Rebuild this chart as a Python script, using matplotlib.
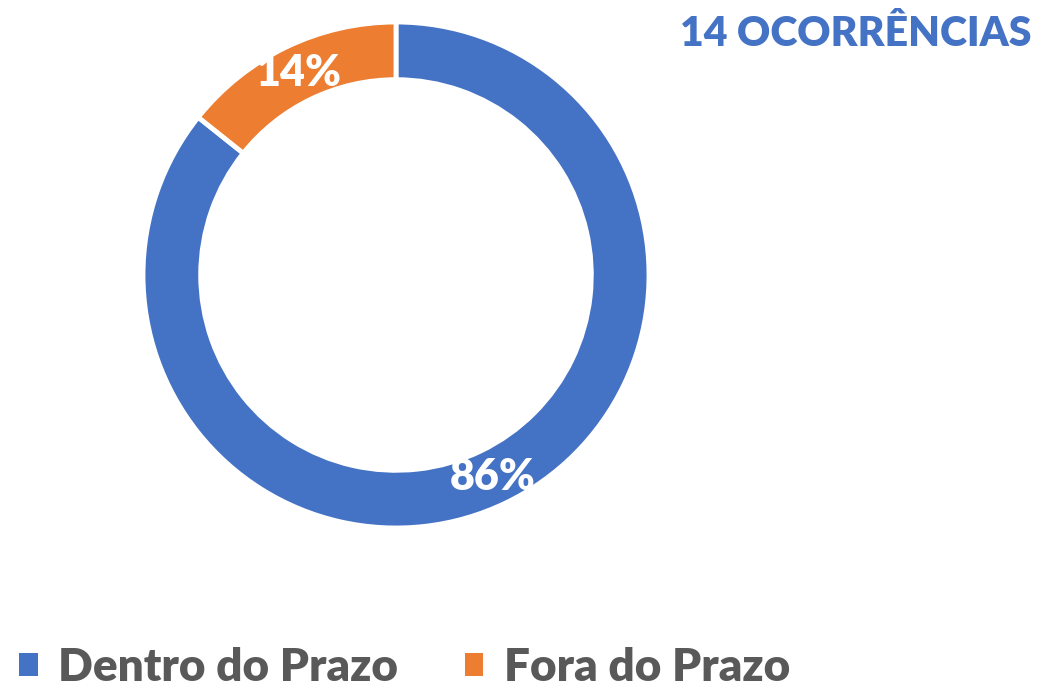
import matplotlib
matplotlib.use("Agg")
import matplotlib.pyplot as plt
from matplotlib.patches import Patch

# data
categories = ["Dentro do Prazo", "Fora do Prazo"]
counts = [12, 2]
colors = ["#4472C4", "#ED7D31"]
title = "14 OCORRÊNCIAS"

plt.rcParams['font.family'] = ['Lato', 'DejaVu Sans']

W, H = 1041, 683
fig = plt.figure(figsize=(W / 100, H / 100), dpi=100)

# donut centred at (396, 276) px, outer radius 253 px
cx, cy, r = 396, 275, 253
ax = fig.add_axes([(cx - r) / W, (H - cy - r) / H, 2 * r / W, 2 * r / H])
ax.pie(counts, colors=colors, startangle=90, counterclock=False,
       radius=1.0, autopct=lambda p: '{:.0f}%'.format(p), pctdistance=0.885,
       wedgeprops=dict(width=0.228, edgecolor='white', linewidth=3.5),
       textprops=dict(color='white', fontsize=31, fontweight='heavy'))
ax.set_xlim(-1, 1)
ax.set_ylim(-1, 1)
ax.set_aspect('equal')
ax.axis('off')

fig.text(1031 / W, 1 - 34 / H, title, color="#4472C4", fontsize=29.5,
         fontweight='heavy', ha='right', va='center')

handles = [Patch(facecolor=c, edgecolor='none') for c in colors]
fig.legend(handles, categories, loc='lower left', bbox_to_anchor=(-22 / W, -46 / H),
           ncol=2, frameon=False, handlelength=0.4, handleheight=0.4,
           handletextpad=0.45, columnspacing=1.45, labelcolor='#595959',
           prop=dict(weight='heavy', size=33))

fig.savefig("out.png", dpi=100)
